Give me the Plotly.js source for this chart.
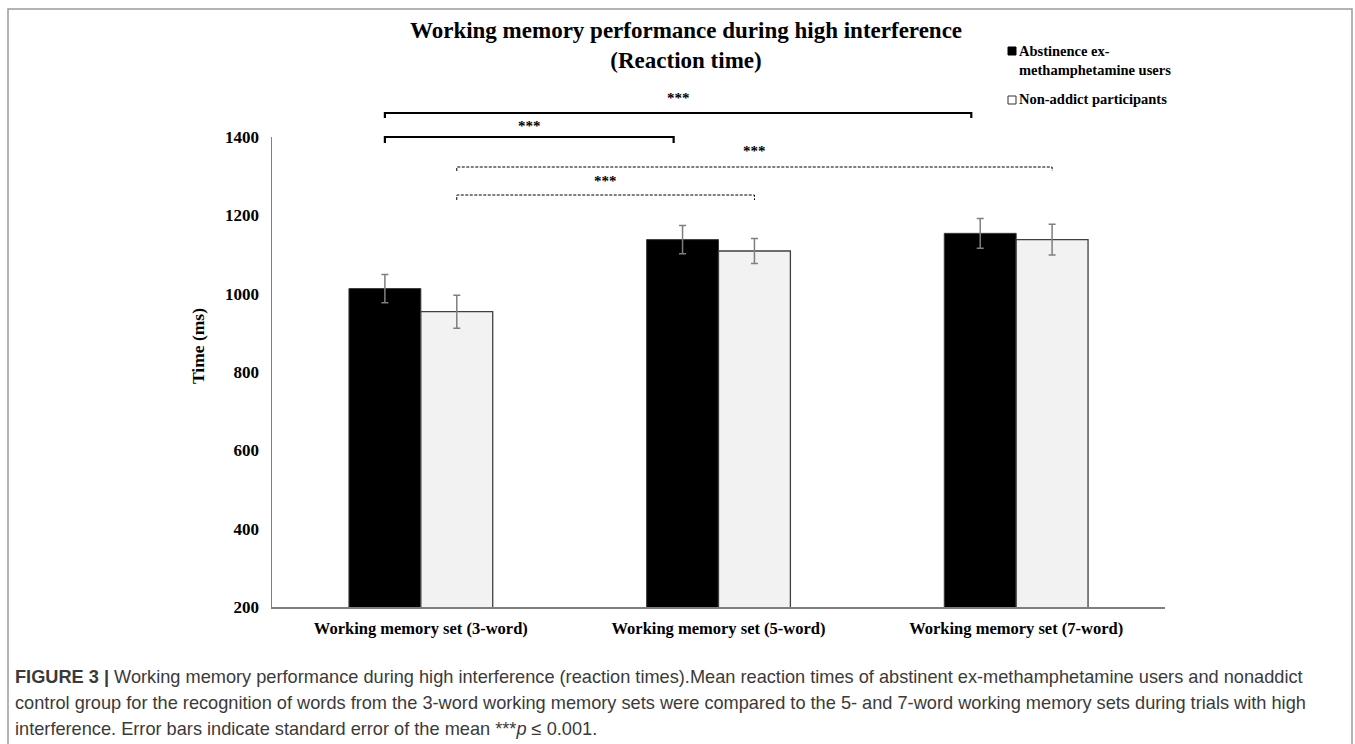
<!DOCTYPE html>
<html>
<head>
<meta charset="utf-8">
<script src="https://cdn.plot.ly/plotly-3.0.1.min.js"></script>
<style>
  html, body { margin: 0; padding: 0; background: #ffffff; }
  #chart { width: 1355px; height: 744px; }
</style>
</head>
<body>
<div id="chart"></div>
<script>
// ---- data ----
const categories = ["Working memory set (3-word)", "Working memory set (5-word)", "Working memory set (7-word)"];
const seriesNames = ["Abstinence ex-<br>methamphetamine users", "Non-addict participants"];
const methValues = [1013, 1138, 1154];
const methErrors = [36, 36, 38];
const controlValues = [954, 1109, 1138];
const controlErrors = [42, 32, 39];
const yTicks = [200, 400, 600, 800, 1000, 1200, 1400];
const yTitle = "Time (ms)";
const sigLabel = "***";
// significance comparisons: [fromCategory, toCategory, series (0 = ex-users, 1 = controls)]
const comparisons = [
  [0, 2, 0],
  [0, 1, 0],
  [0, 2, 1],
  [0, 1, 1]
];
const captionLines = [
  "<b>FIGURE 3 |</b> Working memory performance during high interference (reaction times).Mean reaction times of abstinent ex-methamphetamine users and nonaddict",
  "control group for the recognition of words from the 3-word working memory sets were compared to the 5- and 7-word working memory sets during trials with high",
  "interference. Error bars indicate standard error of the mean ***<i>p</i> ≤ 0.001."
];

// ---- layout geometry (pixels) ----
const W = 1355, H = 744;
const M = { l: 272, r: 190, t: 137, b: 137 };
const PW = W - M.l - M.r, PH = H - M.t - M.b;
const px = x => (x - M.l) / PW;          // pixel -> paper x
const py = y => (H - M.b - y) / PH;      // pixel -> paper y

const serif = '"Liberation Serif", "Times New Roman", serif';
const BARGAP = 0.517;
const halfOffset = (1 - BARGAP) / 4;     // offset of each bar centre from its category

const traces = [
  {
    type: 'bar', name: seriesNames[0], x: [0, 1, 2], y: methValues,
    marker: { color: '#000000', line: { color: '#3a3a3a', width: 1 } },
    error_y: { type: 'data', array: methErrors, visible: true, color: '#7f7f7f', thickness: 1.5, width: 3.5 },
    showlegend: false
  },
  {
    type: 'bar', name: seriesNames[1], x: [0, 1, 2], y: controlValues,
    marker: { color: '#f2f2f2', line: { color: '#404040', width: 1.3 } },
    error_y: { type: 'data', array: controlErrors, visible: true, color: '#7f7f7f', thickness: 1.5, width: 3.5 },
    showlegend: false
  }
];

const shapes = [];
const annotations = [];

// figure frame
shapes.push({ type: 'rect', xref: 'paper', yref: 'paper',
  x0: px(8), x1: px(1352), y0: py(760), y1: py(9),
  line: { color: '#9a9a9a', width: 1.5 }, fillcolor: 'rgba(0,0,0,0)', layer: 'below' });

// significance brackets
const bracketY = [113, 137, 167, 195];     // pixel rows of brackets
const starY = [98, 126, 151, 181];
const tickLen = [5, 6, 4, 5];
comparisons.forEach((c, i) => {
  const off = c[2] === 0 ? -halfOffset : halfOffset;
  const xa = c[0] + off, xb = c[1] + off - (c[2] === 0 ? 0.03 : 0);
  const solid = c[2] === 0;
  const line = solid ? { color: '#000', width: 2.2 } : { color: '#000', width: 1, dash: '3px,1.5px' };
  const y0 = py(bracketY[i]), y1 = py(bracketY[i] + tickLen[i]);
  shapes.push({ type: 'path', xref: 'x', yref: 'paper',
    path: `M ${xa} ${y1} L ${xa} ${y0} L ${xb} ${y0} L ${xb} ${y1}`, line: line });
  annotations.push({ xref: 'x', yref: 'paper', x: (xa + xb) / 2, y: py(starY[i]),
    text: '<b>' + sigLabel + '</b>', showarrow: false, xanchor: 'center', yanchor: 'middle',
    font: { family: serif, size: 15, color: '#000' } });
});

// y-axis title (placed as in the original, slightly above the axis centre)
annotations.push({ xref: 'paper', yref: 'paper', x: px(198), y: py(346), xanchor: 'center', yanchor: 'middle',
  textangle: -90, showarrow: false, text: '<b>' + yTitle + '</b>',
  font: { family: serif, size: 17.5, color: '#000' } });

// legend (drawn manually to match the original)
shapes.push({ type: 'rect', xref: 'paper', yref: 'paper', x0: px(1008), x1: px(1016), y0: py(55), y1: py(47),
  fillcolor: '#000', line: { color: '#000', width: 1 } });
shapes.push({ type: 'rect', xref: 'paper', yref: 'paper', x0: px(1008), x1: px(1016), y0: py(104), y1: py(96),
  fillcolor: '#fff', line: { color: '#333', width: 1 } });
annotations.push({ xref: 'paper', yref: 'paper', x: px(1017), y: py(41), xanchor: 'left', yanchor: 'top',
  align: 'left', showarrow: false, text: '<b>' + seriesNames[0] + '</b>',
  font: { family: serif, size: 14.5, color: '#000' } });
annotations.push({ xref: 'paper', yref: 'paper', x: px(1017), y: py(99), xanchor: 'left', yanchor: 'middle',
  align: 'left', showarrow: false, text: '<b>' + seriesNames[1] + '</b>',
  font: { family: serif, size: 14.5, color: '#000' } });

// caption
captionLines.forEach((t, i) => {
  annotations.push({ xref: 'paper', yref: 'paper', x: px(13), y: py(677 + 26 * i), xanchor: 'left', yanchor: 'middle',
    align: 'left', showarrow: false, text: t,
    font: { family: '"Liberation Sans", Arial, sans-serif', size: 18.2, color: '#3a3a3a' } });
});

const layout = {
  width: W, height: H,
  margin: M,
  paper_bgcolor: '#ffffff', plot_bgcolor: '#ffffff',
  barmode: 'group', bargap: BARGAP, bargroupgap: 0,
  title: {
    text: '<b>Working memory performance during high interference<br>(Reaction time)</b>',
    x: px(686), xref: 'paper', xanchor: 'center', y: 1 - 38 / H, yanchor: 'top',
    font: { family: serif, size: 23, color: '#000' }
  },
  xaxis: {
    range: [-0.5, 2.5], tickmode: 'array', tickvals: [0, 1, 2], ticktext: categories.map(c => '<b>' + c + '</b>'),
    showline: true, linecolor: '#7f7f7f', linewidth: 1.5, ticks: '', showgrid: false, zeroline: false,
    ticklabelstandoff: 6,
    tickfont: { family: serif, size: 16.5, color: '#000' }, fixedrange: true
  },
  yaxis: {
    range: [200, 1400], tickmode: 'array', tickvals: yTicks, ticktext: yTicks.map(v => '<b>' + v + '</b>'),
    showline: true, linecolor: '#7f7f7f', linewidth: 1.5, ticks: '', showgrid: false, zeroline: false,
    ticklabelstandoff: 8,
    tickfont: { family: serif, size: 17, color: '#000' },
    fixedrange: true
  },
  shapes: shapes,
  annotations: annotations,
  showlegend: false
};

Plotly.newPlot('chart', traces, layout, { displayModeBar: false, staticPlot: true });
</script>
</body>
</html>
